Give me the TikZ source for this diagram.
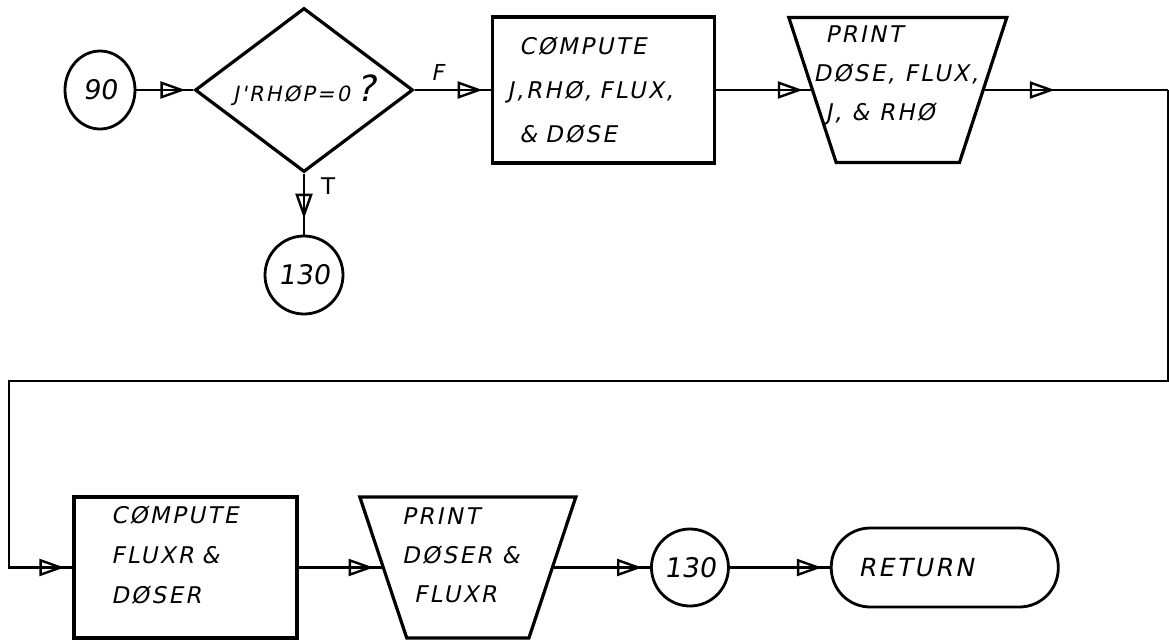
\documentclass[tikz,border=0pt]{standalone}
\usepackage{fontspec}
\newfontfamily\handfont[LetterSpace=10,FakeSlant=0.2]{DejaVu Sans}
\newfontfamily\numfont[FakeSlant=0.15]{DejaVu Sans}
\newfontfamily\lblfont{DejaVu Sans}
\usetikzlibrary{shapes.geometric,arrows.meta,positioning,decorations.markings}
\tikzset{
  fc_conn/.style={ellipse,draw,line width=2.8pt,inner sep=0pt,
    font=\numfont\fontsize{27}{30}\selectfont},
  fc_dec/.style={diamond,draw,line width=3.2pt,
    minimum width=218pt,minimum height=164pt,inner sep=-6pt,
    font=\handfont\fontsize{21}{22}\selectfont},
  fc_proc/.style={rectangle,draw,line width=3.2pt,
    minimum width=222pt,minimum height=146pt,align=left,
    font=\handfont\fontsize{23}{44}\selectfont},
  fc_io/.style={trapezium,trapezium stretches=true,shape border rotate=180,
    trapezium angle=69,draw,line width=3.2pt,
    minimum width=218pt,minimum height=145pt,inner sep=4pt},
  fc_txt/.style={inner sep=0pt,align=left,
    font=\handfont\fontsize{23}{39}\selectfont},
  fc_end/.style={rectangle,rounded corners=39pt,draw,line width=2.8pt,
    minimum width=227pt,minimum height=79pt,inner xsep=27pt,
    text width=173pt,align=left,
    font=\handfont\fontsize{25}{27}\selectfont},
  fc_lbl/.style={inner sep=0pt,font=\handfont\fontsize{22}{24}\selectfont},
  fc_lbl_up/.style={inner sep=0pt,font=\lblfont\fontsize{23}{25}\selectfont},
  arr/.style={line width=2.2pt,postaction={decorate},
    decoration={markings,mark=at position #1 with
      {\arrow{Triangle[open,length=25pt,width=17pt,line width=2.4pt]}}}},
  arr/.default=-8pt,
}
\begin{document}
\begin{tikzpicture}[x=1pt,y=-1pt]
  \useasboundingbox (0,0) rectangle (1169,641);
  % upper row
  \node (c90) [fc_conn,minimum width=70pt,minimum height=78pt] at (100,90) {90};
  \node (dec) [fc_dec,right=57pt of c90]
    {J'RHØP=0\hspace{6pt}{\fontsize{36}{36}\selectfont ?}};
  \node (cmp1) [fc_proc,right=76pt of dec,inner xsep=15pt,text width=192pt]
    {\hspace*{12pt}CØMPUTE\\J,RHØ, FLUX,\\\hspace*{12pt}\& DØSE};
  \node (prt1) [fc_io,right=95pt of cmp1] {\mbox{}};
  \node (prt1txt) [fc_txt] at ([xshift=-2pt,yshift=15pt]prt1.center)
    {\hspace*{12pt}PRINT\\DØSE, FLUX,\\\hspace*{12pt}J, \& RHØ};
  \node (c130a) [fc_conn,below=61pt of dec,minimum size=78pt] {130};
  % lower row
  \node (cmp2) [fc_proc,minimum width=223pt,minimum height=141pt,
    inner xsep=37pt,text width=149pt,
    font=\handfont\fontsize{23}{40}\selectfont] at (185.5,567.5)
    {CØMPUTE\\FLUXR \&\\DØSER\\[-14pt]\mbox{}};
  \node (prt2) [fc_io,right=83pt of cmp2,minimum width=216pt,minimum height=141pt] {\mbox{}};
  \node (prt2txt) [fc_txt] at ([xshift=-7pt,yshift=12pt]prt2.center)
    {PRINT\\DØSER \&\\\hspace*{12pt}FLUXR};
  \node (c130b) [fc_conn,right=96pt of prt2,minimum size=77pt] {130};
  \node (ret) [fc_end,right=100pt of c130b] {RETURN};

  \draw[arr] (c90) -- (dec);
  \draw[arr] (dec) -- node[fc_lbl,pos=0.3,above=8pt] (lbl_f) {F} (cmp1);
  \draw[arr=-16pt] (dec) -- node[fc_lbl_up,pos=0.2,right=16pt] (lbl_t) {T} (c130a);
  \draw[arr] (cmp1) -- (prt1);
  % loop round to the lower row
  \coordinate (edge_r) at (1168,381);
  \coordinate (loop_l) at (9,381);
  \draw[arr=70pt] (prt1.east) -- (prt1.east -| edge_r);
  \draw[arr] (prt1.east -| edge_r) -- (edge_r) -- (loop_l) |- (cmp2.west);
  \draw[arr] (cmp2) -- (prt2);
  \draw[arr] (prt2) -- (c130b);
  \draw[arr] (c130b) -- (ret);
\end{tikzpicture}
\end{document}
